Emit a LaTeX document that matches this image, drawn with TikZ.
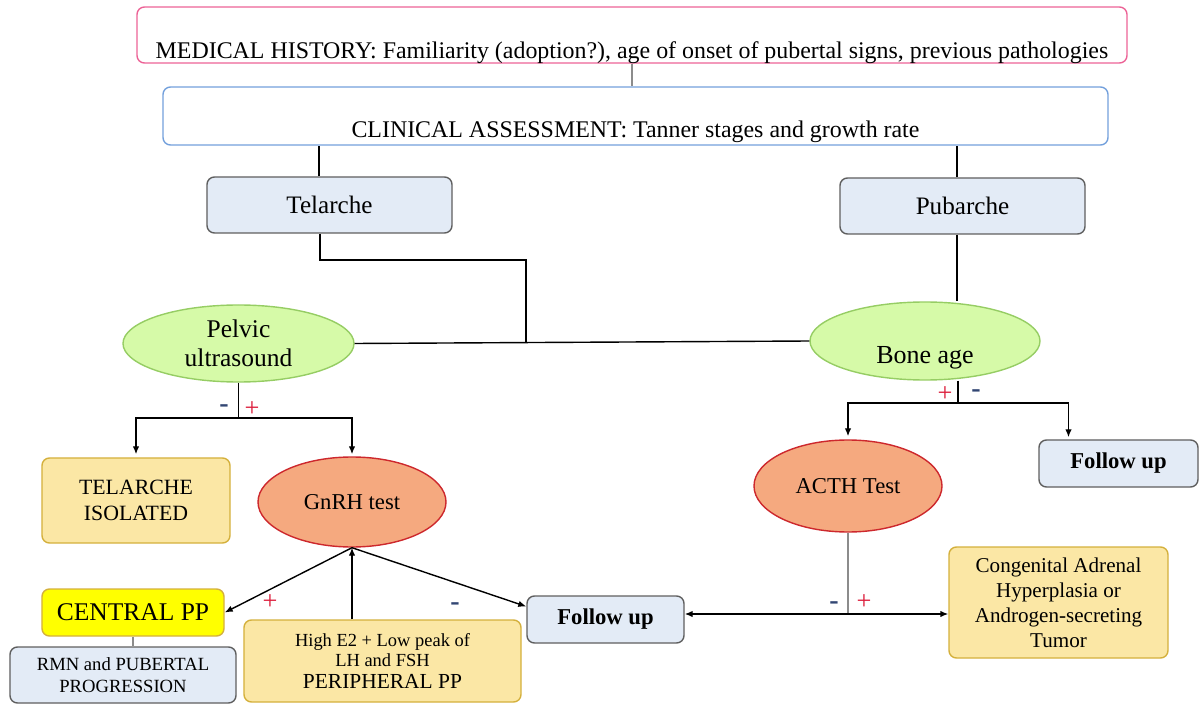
\documentclass[tikz,border=0pt]{standalone}
\usepackage{fontspec}
\setmainfont{Liberation Serif}
\usetikzlibrary{arrows.meta,shapes}

\definecolor{histpink}{RGB}{236,98,150}
\definecolor{clinblue}{RGB}{115,160,220}
\definecolor{boxblue}{RGB}{227,235,246}
\definecolor{boxgrey}{RGB}{95,95,95}
\definecolor{boxyellow}{RGB}{251,231,165}
\definecolor{boxgold}{RGB}{212,176,60}
\definecolor{ppyellow}{RGB}{255,255,0}
\definecolor{ovalgreen}{RGB}{214,250,168}
\definecolor{ovalgreenline}{RGB}{150,205,100}
\definecolor{ovalsalmon}{RGB}{245,169,127}
\definecolor{ovalred}{RGB}{205,40,45}
\definecolor{signred}{RGB}{220,30,60}
\definecolor{signblue}{RGB}{50,70,115}

\newcommand\fsz[2]{\fontsize{#1}{#2}\selectfont}

\begin{document}
\begin{tikzpicture}[x=0.2mm,y=-0.2mm,
    >={Latex[length=1.6mm,width=1.3mm]},   % arrow tip
    box/.style={draw,rounded corners=1.5mm,line width=0.8pt,inner sep=0pt,align=center},
    bluebox/.style={box,fill=boxblue,draw=boxgrey},
    yelbox/.style={box,fill=boxyellow,draw=boxgold},
    oval/.style={ellipse,draw,line width=0.8pt,inner sep=0pt,align=center},
    greenoval/.style={oval,fill=ovalgreen,draw=ovalgreenline},
    redoval/.style={oval,fill=ovalsalmon,draw=ovalred},
    signplus/.style={text=signred,font=\fsz{15}{16}},
    signminus/.style={text=signblue,font=\bfseries\fsz{16}{17}},
    link/.style={draw=black,line width=0.8pt},
    greylink/.style={draw=black!45,line width=0.8pt}]

\useasboundingbox (0,0) rectangle (1199,704);

%%%% medical history / clinical assessment
\node[box,draw=histpink,minimum width=198mm,minimum height=11.2mm,
      text height=10.4mm,text depth=0.8mm,font=\fsz{13.6}{15}] (med) at (632,35)
      {MEDICAL HISTORY: Familiarity (adoption?), age of onset of pubertal signs, previous pathologies};
\node[box,draw=clinblue,minimum width=189mm,minimum height=11.6mm,
      text height=10.2mm,text depth=1.4mm,font=\fsz{13.6}{15}] (clin) at (635.5,116)
      {CLINICAL ASSESSMENT: Tanner stages and growth rate};

%%%% telarche / pubarche
\node[bluebox,minimum width=49mm,minimum height=11.2mm,font=\fsz{14.3}{17}] (tel) at (329.5,205) {Telarche};
\node[bluebox,minimum width=49mm,minimum height=11.2mm,font=\fsz{14.3}{17}] (pub) at (962.5,206) {Pubarche};

%%%% first tests
\node[greenoval,minimum width=46.2mm,minimum height=15.4mm,font=\fsz{14.5}{16.5}] (pelv) at (238.5,343.5) {Pelvic\\ultrasound};
\node[greenoval,minimum width=46mm,minimum height=15.6mm,
      label={[font=\fsz{14.8}{17},yshift=-3.4mm]center:Bone age}] (bone) at (925,341) {};

%%%% results
\node[yelbox,minimum width=37.6mm,minimum height=17mm,font=\fsz{12.4}{14.5}] (iso) at (136,500.5) {TELARCHE\\ISOLATED};
\node[redoval,minimum width=37.6mm,minimum height=18mm,font=\fsz{12.9}{15}] (gnrh) at (352,502) {GnRH test};
\node[redoval,minimum width=37.6mm,minimum height=18.4mm,font=\fsz{12.9}{15}] (acth) at (848,486) {ACTH Test};
\node[bluebox,minimum width=31.8mm,minimum height=9.4mm,font=\bfseries\fsz{12.9}{15}] (fur) at (1118.5,463.5) {Follow up};

%%%% bottom row
\node[box,fill=ppyellow,draw=boxgold,minimum width=36.4mm,minimum height=9.4mm,font=\fsz{14.5}{17}] (cpp) at (133,612.5) {CENTRAL PP};
\node[bluebox,minimum width=45.2mm,minimum height=11.2mm,font=\fsz{10.6}{12.5}] (rmn) at (123,675) {RMN and PUBERTAL\\PROGRESSION};
\node[yelbox,minimum width=55.4mm,minimum height=16.4mm,font=\fsz{10.5}{11.5}] (per) at (382.5,661)
      {High E2 + Low peak of\\LH and FSH\\[0.4mm]{\fsz{12.2}{14}PERIPHERAL PP}};
\node[bluebox,minimum width=31.4mm,minimum height=9.4mm,font=\bfseries\fsz{12.9}{15}] (fum) at (605.5,619.5) {Follow up};
\node[yelbox,minimum width=43.8mm,minimum height=22.2mm,font=\fsz{12}{14.2}] (cah) at (1058.5,602.5)
      {Congenital Adrenal\\Hyperplasia or\\Androgen-secreting\\Tumor};

%%%% connectors top
\draw[greylink] (med.south) -- (med.south |- clin.north);
\coordinate (tin) at ([xshift=-2.1mm]tel.north);
\draw[link] (tin) -- (tin |- clin.south);
\coordinate (pin) at ([xshift=-1.1mm]pub.north);
\draw[link] (pin) -- (pin |- clin.south);

\coordinate (tout) at ([xshift=-1.9mm]tel.south);
\coordinate (tjoin) at (526,260);
\draw[link] (tout) |- (tjoin) -- (tjoin |- pelv.east);
\draw[link] (pelv.east) -- (bone.west);
\coordinate (pout) at ([xshift=-1.1mm]pub.south);
\draw[link] (pout) -- (pout |- bone.north);

%%%% pelvic ultrasound branches
\coordinate (psplit) at (238.5,418);
\draw[link] (pelv.south) -- (psplit);
\draw[link,->,shorten >=0.6mm] (psplit) -| (iso.north);
\draw[link,->,shorten >=0.4mm] (psplit) -| (gnrh.north);
\node[signminus] (pm) at (224,409) {-};
\node[signplus] (pp) at (252,409) {+};

%%%% bone age branches
\coordinate (bsplit) at (958,403);
\draw[link] (bsplit |- bone.south) -- (bsplit);
\draw[link,->,shorten >=0.6mm] (bsplit) -| (acth.north);
\coordinate (fin) at ([xshift=-10mm]fur.north);
\draw[link,->,shorten >=0.4mm] (bsplit) -| (fin);
\node[signplus] (bp) at (945,394) {+};
\node[signminus] (bm) at (976,394) {-};

%%%% GnRH test results
\draw[link,->] (gnrh.south) -- (cpp.east);
\draw[link,->] (gnrh.south) -- ([yshift=2.6mm]fum.west);
\draw[link,->] (gnrh.south |- per.north) -- (gnrh.south);
\draw[greylink] (cpp.south) -- (cpp.south |- rmn.north);
\node[signplus] (gp) at (270,602) {+};
\node[signminus] (gm) at (455,607) {-};

%%%% ACTH test results
\coordinate (ajoin) at (848,614);
\draw[greylink] (acth.south) -- (ajoin);
\draw[link,<->] (ajoin -| fum.east) -- (ajoin -| cah.west);
\node[signminus] (am) at (834,606) {-};
\node[signplus] (ap) at (864,602) {+};

\end{tikzpicture}
\end{document}
